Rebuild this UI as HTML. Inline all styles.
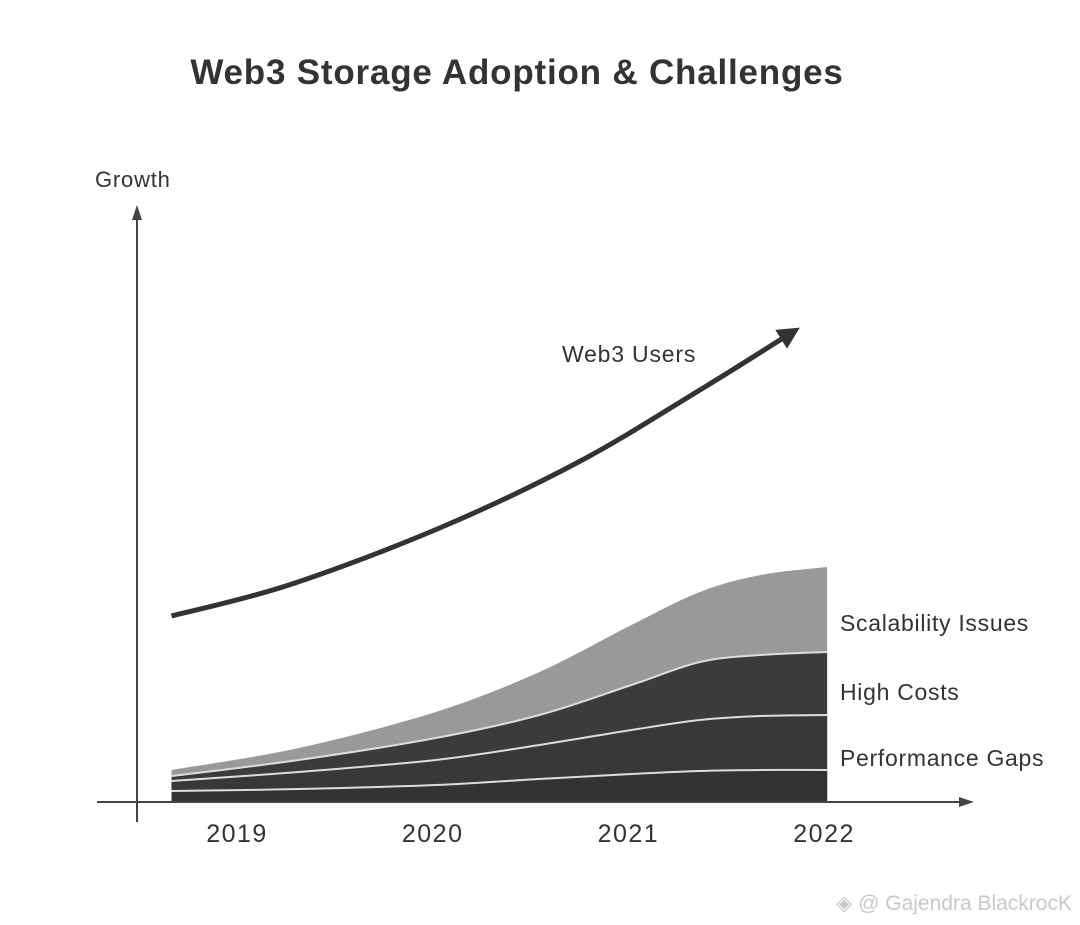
<!DOCTYPE html>
<html><head><meta charset="utf-8"><style>
html,body{margin:0;padding:0;background:#fff;}
svg{display:block;font-family:"Liberation Sans",sans-serif;}
</style></head><body>
<svg id="chart" width="1080" height="925" viewBox="0 0 1080 925">
<text x="517" y="84" text-anchor="middle" font-size="35" font-weight="bold" fill="#333" letter-spacing="0.8">Web3 Storage Adoption &amp; Challenges</text>
<text x="95" y="187" font-size="22" fill="#333" letter-spacing="0.8">Growth</text>
<g id="areas"></g>
<g id="users"></g>
<line x1="137" y1="822" x2="137" y2="215" stroke="#444" stroke-width="2"/>
<polygon points="137,205 132,220 142,220" fill="#444"/>
<line x1="97" y1="802" x2="962" y2="802" stroke="#444" stroke-width="2"/>
<polygon points="974,802 959,797 959,807" fill="#444"/>
<g id="xticks"></g>
<text x="840" y="631" font-size="23" fill="#333" letter-spacing="0.7">Scalability Issues</text>
<text x="840" y="700" font-size="23" fill="#333" letter-spacing="0.7">High Costs</text>
<text x="840" y="766" font-size="23" fill="#333" letter-spacing="0.7">Performance Gaps</text>
<text x="562" y="362" font-size="23" fill="#333" letter-spacing="0.8">Web3 Users</text>
<text x="1072" y="910" text-anchor="end" font-size="21" fill="#c8c8c8">◈ @ Gajendra BlackrocK</text>
</svg>
<script>
const areaYears = [2018.65, 2019.3, 2020, 2020.53, 2021, 2021.35, 2021.66, 2022];
const bottomLayer = [5, 6, 8, 11, 13.5, 15, 15.5, 15.5];
const performanceGaps = [5, 8.5, 12.5, 17, 22, 25.5, 27, 27.5];
const highCosts = [2.5, 6, 11, 15, 22.5, 29, 30.5, 31.5];
const scalability = [3, 6, 13, 21.5, 30, 35, 40, 42.5];
const userYears = [2018.65, 2019.25, 2020.02, 2020.73, 2021.35, 2021.8];
const userValues = [92.5, 108, 136.5, 169.5, 205.5, 233];
const tickYears = [2019, 2020, 2021, 2022];
const tickLabels = ["2019", "2020", "2021", "2022"];

const NS = "http://www.w3.org/2000/svg";
function xs(yr){ return 240 + (yr - 2019) * 195.7; }
function ys(v){ return 801 - v * 2; }
function smooth(pts){
  let d = "M" + pts[0][0] + "," + pts[0][1];
  for (let i = 0; i < pts.length - 1; i++) {
    const p0 = pts[i-1] || pts[i], p1 = pts[i], p2 = pts[i+1], p3 = pts[i+2] || p2;
    const c1 = [p1[0] + (p2[0]-p0[0])/6, p1[1] + (p2[1]-p0[1])/6];
    const c2 = [p2[0] - (p3[0]-p1[0])/6, p2[1] - (p3[1]-p1[1])/6];
    d += " C" + c1[0] + "," + c1[1] + " " + c2[0] + "," + c2[1] + " " + p2[0] + "," + p2[1];
  }
  return d;
}
const layers = [bottomLayer, performanceGaps, highCosts, scalability];
const fills = ["#333", "#383838", "#3b3b3b", "#999"];
const names = ["area-base", "area-performance-gaps", "area-high-costs", "area-scalability-issues"];
const cum = areaYears.map(() => 0);
const tops = [];
layers.forEach((arr) => { arr.forEach((v, i) => cum[i] += v); tops.push(cum.slice()); });
const areasG = document.getElementById("areas");
for (let k = layers.length - 1; k >= 0; k--) {
  const pts = areaYears.map((yr, i) => [xs(yr), ys(tops[k][i])]);
  const p = document.createElementNS(NS, "path");
  p.setAttribute("d", smooth(pts) + " L" + xs(areaYears[areaYears.length-1]) + "," + ys(0) + " L" + xs(areaYears[0]) + "," + ys(0) + " Z");
  p.setAttribute("fill", fills[k]);
  
  
  areasG.appendChild(p);
}
for (let k = 0; k < layers.length - 1; k++) {
  const pts = areaYears.map((yr, i) => [xs(yr), ys(tops[k][i])]);
  const p = document.createElementNS(NS, "path");
  p.setAttribute("d", smooth(pts));
  p.setAttribute("fill", "none");
  p.setAttribute("stroke", "#ddd");
  p.setAttribute("stroke-width", "2");
  
  
  areasG.appendChild(p);
}
const usersG = document.getElementById("users");
const upts = userYears.map((yr, i) => [xs(yr), ys(userValues[i])]);
const ul = document.createElementNS(NS, "path");
ul.setAttribute("d", smooth(upts));
ul.setAttribute("fill", "none");
ul.setAttribute("stroke", "#333");
ul.setAttribute("stroke-width", "5");


usersG.appendChild(ul);
const a = upts[upts.length-1], b = upts[upts.length-2];
const ang = Math.atan2(a[1]-b[1], a[0]-b[0]);
const tip = [a[0] + 14*Math.cos(ang), a[1] + 14*Math.sin(ang)];
const back = [a[0] - 8*Math.cos(ang), a[1] - 8*Math.sin(ang)];
const px = -Math.sin(ang)*11, py = Math.cos(ang)*11;
const ah = document.createElementNS(NS, "polygon");
ah.setAttribute("points", tip.join(",") + " " + (back[0]+px) + "," + (back[1]+py) + " " + (back[0]-px) + "," + (back[1]-py));
ah.setAttribute("fill", "#333");


usersG.appendChild(ah);
const xt = document.getElementById("xticks");
tickYears.forEach((yr, i) => {
  const t = document.createElementNS(NS, "text");
  t.setAttribute("x", xs(yr) - 3);
  t.setAttribute("y", 842);
  t.setAttribute("text-anchor", "middle");
  t.setAttribute("font-size", "25");
  t.setAttribute("letter-spacing", "1.5");
  t.setAttribute("fill", "#333");
  t.textContent = tickLabels[i];
  
  
  xt.appendChild(t);
});
</script>
</body></html>
